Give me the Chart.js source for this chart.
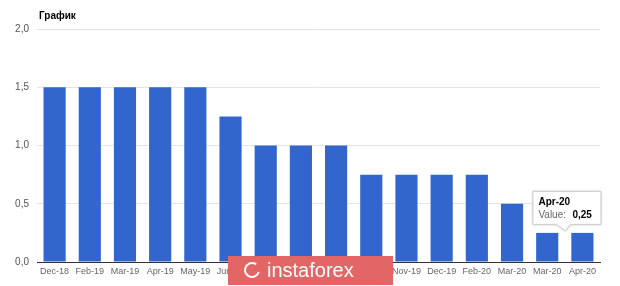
<!DOCTYPE html>
<html>
<head>
<meta charset="utf-8">
<script src="https://cdn.jsdelivr.net/npm/chart.js@4"></script>
<style>
  html, body { margin: 0; padding: 0; background: #fff; }
  #wrap { position: relative; width: 620px; height: 286px; }
</style>
</head>
<body>
<div id="wrap"><canvas id="chart" width="620" height="286"></canvas></div>
<script>
const months = ['Dec-18', 'Feb-19', 'Mar-19', 'Apr-19', 'May-19', 'Jun-19', 'Jul-19', 'Aug-19',
                'Sep-19', 'Oct-19', 'Nov-19', 'Dec-19', 'Feb-20', 'Mar-20', 'Mar-20', 'Apr-20'];
const rates = [1.5, 1.5, 1.5, 1.5, 1.5, 1.25, 1.0, 1.0, 1.0, 0.75, 0.75, 0.75, 0.75, 0.5, 0.25, 0.25];
const yTicks = [0, 0.5, 1.0, 1.5, 2.0];
const tipIndex = 15;

const FONT = '"Liberation Sans", Arial, sans-serif';
const fmt = v => v.toFixed(1).replace('.', ',');

// title, hover box and watermark drawn on top
const extras = {
    id: 'extras',
    afterDraw(chart) {
        const c = chart.ctx;
        const area = chart.chartArea;
        c.save();
        c.fillStyle = '#000';
        c.font = 'bold 10px ' + FONT;
        c.textBaseline = 'middle';
        c.fillText('График', area.left + 2, 16);

        // tooltip for the last bar
        const bar = chart.getDatasetMeta(0).data[tipIndex];
        const bx = bar.x - 50, by = bar.y - 42, bw = 68, bh = 33;
        c.shadowColor = 'rgba(0,0,0,0.25)';
        c.shadowBlur = 3;
        c.fillStyle = '#fff';
        c.strokeStyle = '#ccc';
        c.lineWidth = 1;
        c.beginPath();
        c.moveTo(bx + 0.5, by + 0.5);
        c.lineTo(bx + bw + 0.5, by + 0.5);
        c.lineTo(bx + bw + 0.5, by + bh + 0.5);
        c.lineTo(bx + 38, by + bh + 0.5);
        c.lineTo(bx + 33, by + bh + 7);
        c.lineTo(bx + 24, by + bh + 0.5);
        c.lineTo(bx + 0.5, by + bh + 0.5);
        c.closePath();
        c.fill();
        c.shadowColor = 'transparent';
        c.stroke();
        c.fillStyle = '#000';
        c.font = 'bold 10px ' + FONT;
        c.fillText(months[tipIndex], bx + 6, by + 11);
        c.fillStyle = '#666';
        c.font = '10px ' + FONT;
        c.fillText('Value:', bx + 6, by + 24);
        c.fillStyle = '#000';
        c.font = 'bold 10px ' + FONT;
        c.fillText(rates[tipIndex].toFixed(2).replace('.', ','), bx + 40, by + 24);

        // watermark
        c.fillStyle = '#e36666';
        c.fillRect(228, 256, 165, 29);
        c.strokeStyle = '#fff';
        c.lineWidth = 2;
        c.beginPath();
        c.arc(252, 270, 7, 0.3, Math.PI * 1.7);
        c.stroke();
        c.fillStyle = '#fff';
        c.font = '20px ' + FONT;
        c.fillText('instaforex', 267, 271);
        c.restore();
    }
};

new Chart(document.getElementById('chart'), {
    type: 'bar',
    data: {
        labels: months,
        datasets: [{
            label: 'Value',
            data: rates,
            backgroundColor: '#3366cc',
            categoryPercentage: 1,
            barPercentage: 0.63
        }]
    },
    options: {
        responsive: false,
        animation: false,
        layout: { padding: { top: 29, right: 20, bottom: 0, left: 0 } },
        plugins: { legend: { display: false }, tooltip: { enabled: false } },
        scales: {
            x: {
                grid: { display: false, drawTicks: false },
                border: { display: true, color: '#333', width: 1 },
                ticks: { color: '#666', font: { size: 9, family: FONT }, maxRotation: 0, autoSkip: false, padding: 4 },
                afterFit(s) { s.height = 24; }
            },
            y: {
                min: 0, max: 2,
                afterBuildTicks(s) { s.ticks = yTicks.map(v => ({ value: v })); },
                grid: { color: '#e4e4e4', drawTicks: false },
                border: { display: false },
                ticks: { color: '#555', font: { size: 10, family: FONT }, padding: 8, callback: v => fmt(v) },
                afterFit(s) { s.width = 37; }
            }
        }
    },
    plugins: [extras]
});
</script>
</body>
</html>
